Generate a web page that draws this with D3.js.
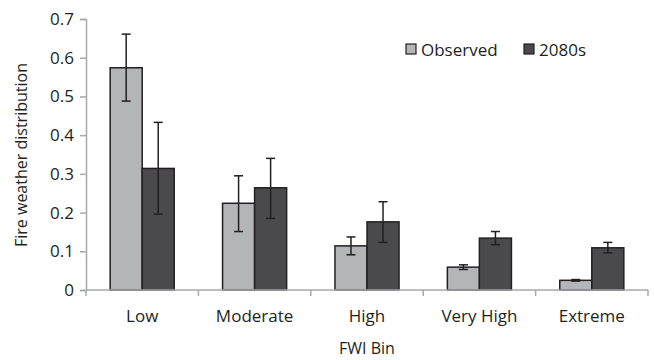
<!DOCTYPE html>
<meta charset="utf-8">
<title>Fire weather distribution</title>
<style>
  body { margin: 0; background: #fff; }
  text { font-family: "Open Sans", "Noto Sans", sans-serif; fill: #231f20; }
</style>
<body>
<script src="https://cdn.jsdelivr.net/npm/d3@7"></script>
<script>

  var categories = ["Low", "Moderate", "High", "Very High", "Extreme"];
  var seriesNames = ["Observed", "2080s"];

  // bar heights and error bar ends
  var observed     = [0.574, 0.224, 0.114, 0.059, 0.025];
  var observedLow  = [0.488, 0.151, 0.091, 0.053, 0.023];
  var observedHigh = [0.661, 0.295, 0.137, 0.065, 0.027];
  var future       = [0.314, 0.264, 0.176, 0.134, 0.109];
  var futureLow    = [0.196, 0.185, 0.123, 0.117, 0.096];
  var futureHigh   = [0.433, 0.340, 0.228, 0.151, 0.123];

  var yTicks = [0, 0.1, 0.2, 0.3, 0.4, 0.5, 0.6, 0.7];

  var width = 654, height = 360;
  var margin = { top: 19, right: 6, bottom: 70, left: 86 };

  var svg = d3.select("body").append("svg")
      .attr("width", width)
      .attr("height", height);

  var x0 = d3.scaleBand()
      .domain(categories)
      .range([margin.left, width - margin.right])
      .paddingInner(0.43)
      .paddingOuter(0.215);

  var x1 = d3.scaleBand()
      .domain(seriesNames)
      .range([0, x0.bandwidth()]);

  var y = d3.scaleLinear()
      .domain([0, 0.7])
      .range([height - margin.bottom, margin.top]);

  var color = d3.scaleOrdinal()
      .domain(seriesNames)
      .range(["#b4b5b9", "#4a4a4d"]);

  var rows = categories.map(function(c, i) {
    return { cat: c, bars: [
      { s: "Observed", v: observed[i], lo: observedLow[i], hi: observedHigh[i] },
      { s: "2080s", v: future[i], lo: futureLow[i], hi: futureHigh[i] }
    ]};
  });

  // y axis
  var yAxis = svg.append("g")
      .attr("transform", "translate(" + margin.left + ",0)")
      .call(d3.axisLeft(y).tickValues(yTicks).tickSize(6).tickPadding(6)
        .tickFormat(function(d) { return d === 0 ? "0" : d3.format(".1f")(d); }));
  yAxis.select(".domain").attr("stroke", "#a7a9ac").attr("stroke-width", 1.5);
  yAxis.selectAll(".tick line").attr("stroke", "#a7a9ac").attr("stroke-width", 1.5);
  yAxis.selectAll("text").style("font-size", "17px").attr("fill", "#231f20");

  // bars
  var group = svg.selectAll(".group")
      .data(rows)
      .enter().append("g")
      .attr("transform", function(d) { return "translate(" + x0(d.cat) + ",0)"; });

  group.selectAll("rect")
      .data(function(d) { return d.bars; })
      .enter().append("rect")
      .attr("x", function(d) { return x1(d.s); })
      .attr("y", function(d) { return y(d.v); })
      .attr("width", x1.bandwidth())
      .attr("height", function(d) { return y(0) - y(d.v); })
      .attr("fill", function(d) { return color(d.s); })
      .attr("stroke", "#231f20")
      .attr("stroke-width", 1.5);

  // error bars
  var err = group.selectAll(".err")
      .data(function(d) { return d.bars; })
      .enter().append("g")
      .attr("stroke", "#231f20")
      .attr("stroke-width", 1.5);

  err.append("line")
      .attr("x1", function(d) { return x1(d.s) + x1.bandwidth() / 2; })
      .attr("x2", function(d) { return x1(d.s) + x1.bandwidth() / 2; })
      .attr("y1", function(d) { return y(d.lo); })
      .attr("y2", function(d) { return y(d.hi); });

  ["lo", "hi"].forEach(function(k) {
    err.append("line")
        .attr("x1", function(d) { return x1(d.s) + x1.bandwidth() / 2 - 4.5; })
        .attr("x2", function(d) { return x1(d.s) + x1.bandwidth() / 2 + 4.5; })
        .attr("y1", function(d) { return y(d[k]); })
        .attr("y2", function(d) { return y(d[k]); });
  });

  // x axis with ticks between categories
  var xAxis = svg.append("g")
      .attr("transform", "translate(0," + y(0) + ")");
  xAxis.append("line")
      .attr("x1", margin.left).attr("x2", width - margin.right)
      .attr("stroke", "#a7a9ac").attr("stroke-width", 1.5);
  var step = x0.step();
  var bounds = categories.map(function(c) { return x0(c) - step * x0.paddingInner() / 2; });
  bounds.push(bounds[bounds.length - 1] + step);
  xAxis.selectAll(".xt")
      .data(bounds)
      .enter().append("line")
      .attr("x1", function(d) { return d; }).attr("x2", function(d) { return d; })
      .attr("y1", 0).attr("y2", 6)
      .attr("stroke", "#a7a9ac").attr("stroke-width", 1.5);
  xAxis.selectAll(".xl")
      .data(categories)
      .enter().append("text")
      .attr("x", function(d) { return x0(d) + x0.bandwidth() / 2; })
      .attr("y", 32)
      .attr("text-anchor", "middle")
      .style("font-size", "17px")
      .text(function(d) { return d; });

  // axis titles
  svg.append("text")
      .attr("x", (margin.left + width - margin.right) / 2)
      .attr("y", 354)
      .attr("text-anchor", "middle")
      .style("font-size", "16px")
      .text("FWI Bin");

  svg.append("text")
      .attr("transform", "translate(27," + 155 + ") rotate(-90)")
      .attr("text-anchor", "middle")
      .style("font-size", "16px")
      .text("Fire weather distribution");

  // legend
  var legendX = [406, 524];
  var legend = svg.selectAll(".legend")
      .data(seriesNames)
      .enter().append("g")
      .attr("transform", function(d, i) { return "translate(" + legendX[i] + ",44)"; });
  legend.append("rect")
      .attr("width", 10).attr("height", 10)
      .attr("fill", function(d) { return color(d); })
      .attr("stroke", "#231f20").attr("stroke-width", 1.2);
  legend.append("text")
      .attr("x", 15).attr("y", 11.5)
      .style("font-size", "17px")
      .text(function(d) { return d; });

</script>
</body>
